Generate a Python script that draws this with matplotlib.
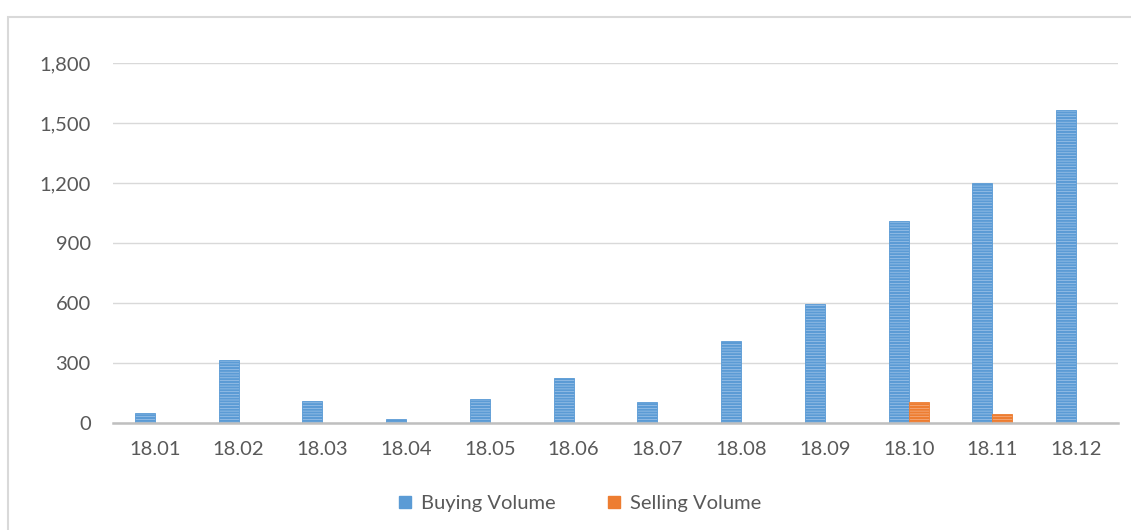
import numpy as np
import matplotlib.pyplot as plt
from matplotlib.patches import Rectangle, Patch
from matplotlib.ticker import FuncFormatter

months = ['18.01', '18.02', '18.03', '18.04', '18.05', '18.06',
          '18.07', '18.08', '18.09', '18.10', '18.11', '18.12']
buying = [50, 315, 110, 20, 120, 225, 105, 410, 595, 1010, 1200, 1565]
selling = [0, 0, 0, 0, 0, 0, 0, 0, 0, 105, 45, 0]
yticks = [0, 300, 600, 900, 1200, 1500, 1800]

plt.rcParams['font.family'] = ['Lato', 'DejaVu Sans']
plt.rcParams['hatch.linewidth'] = 1.5

fig = plt.figure(figsize=(11.31, 5.30), dpi=100)
fig.patches.append(Rectangle((8 / 1131, -0.05), 1.2, 1 - 17 / 530 + 0.05,
                             transform=fig.transFigure, fill=False,
                             edgecolor='#d9d9d9', linewidth=1.5))

ax = fig.add_axes([0.0999, 0.2019, 0.8886, 0.6792])
x = np.arange(len(months))
w = 0.238

ax.bar(x - w / 2, buying, w, facecolor='#a3c6ea', edgecolor='#5b9bd5',
       hatch='------', linewidth=0.6, zorder=3)
ax.bar(x + w / 2, selling, w, facecolor='#f6b38a', edgecolor='#ed7d31',
       hatch='------', linewidth=0.6, zorder=3)

ax.set_xlim(-0.5, 11.5)
ax.set_ylim(0, 1800)
ax.set_xticks(x)
ax.set_xticklabels(months)
ax.set_yticks(yticks)
ax.yaxis.set_major_formatter(FuncFormatter(lambda v, p: f'{int(v):,}'))
ax.grid(axis='y', color='#d9d9d9', linewidth=1.0, zorder=0)
for s in ['top', 'right', 'left']:
    ax.spines[s].set_visible(False)
ax.spines['bottom'].set_color('#bfbfbf')
ax.spines['bottom'].set_linewidth(1.8)
ax.spines['bottom'].set_zorder(4)
ax.tick_params(axis='both', length=0, labelsize=14.5, labelcolor='#595959')
ax.tick_params(axis='y', pad=16)
ax.tick_params(axis='x', pad=13)

handles = [Patch(facecolor='#5b9bd5', edgecolor='#5b9bd5', hatch='---'),
           Patch(facecolor='#ed7d31', edgecolor='#ed7d31', hatch='---')]
fig.legend(handles, ['Buying Volume', 'Selling Volume'], loc='center',
           bbox_to_anchor=(0.513, 0.05), ncol=2, frameon=False,
           fontsize=14.5, labelcolor='#595959', handlelength=0.6,
           handleheight=0.6, handletextpad=0.5, columnspacing=2.6)

fig.savefig('out.png', dpi=100)
